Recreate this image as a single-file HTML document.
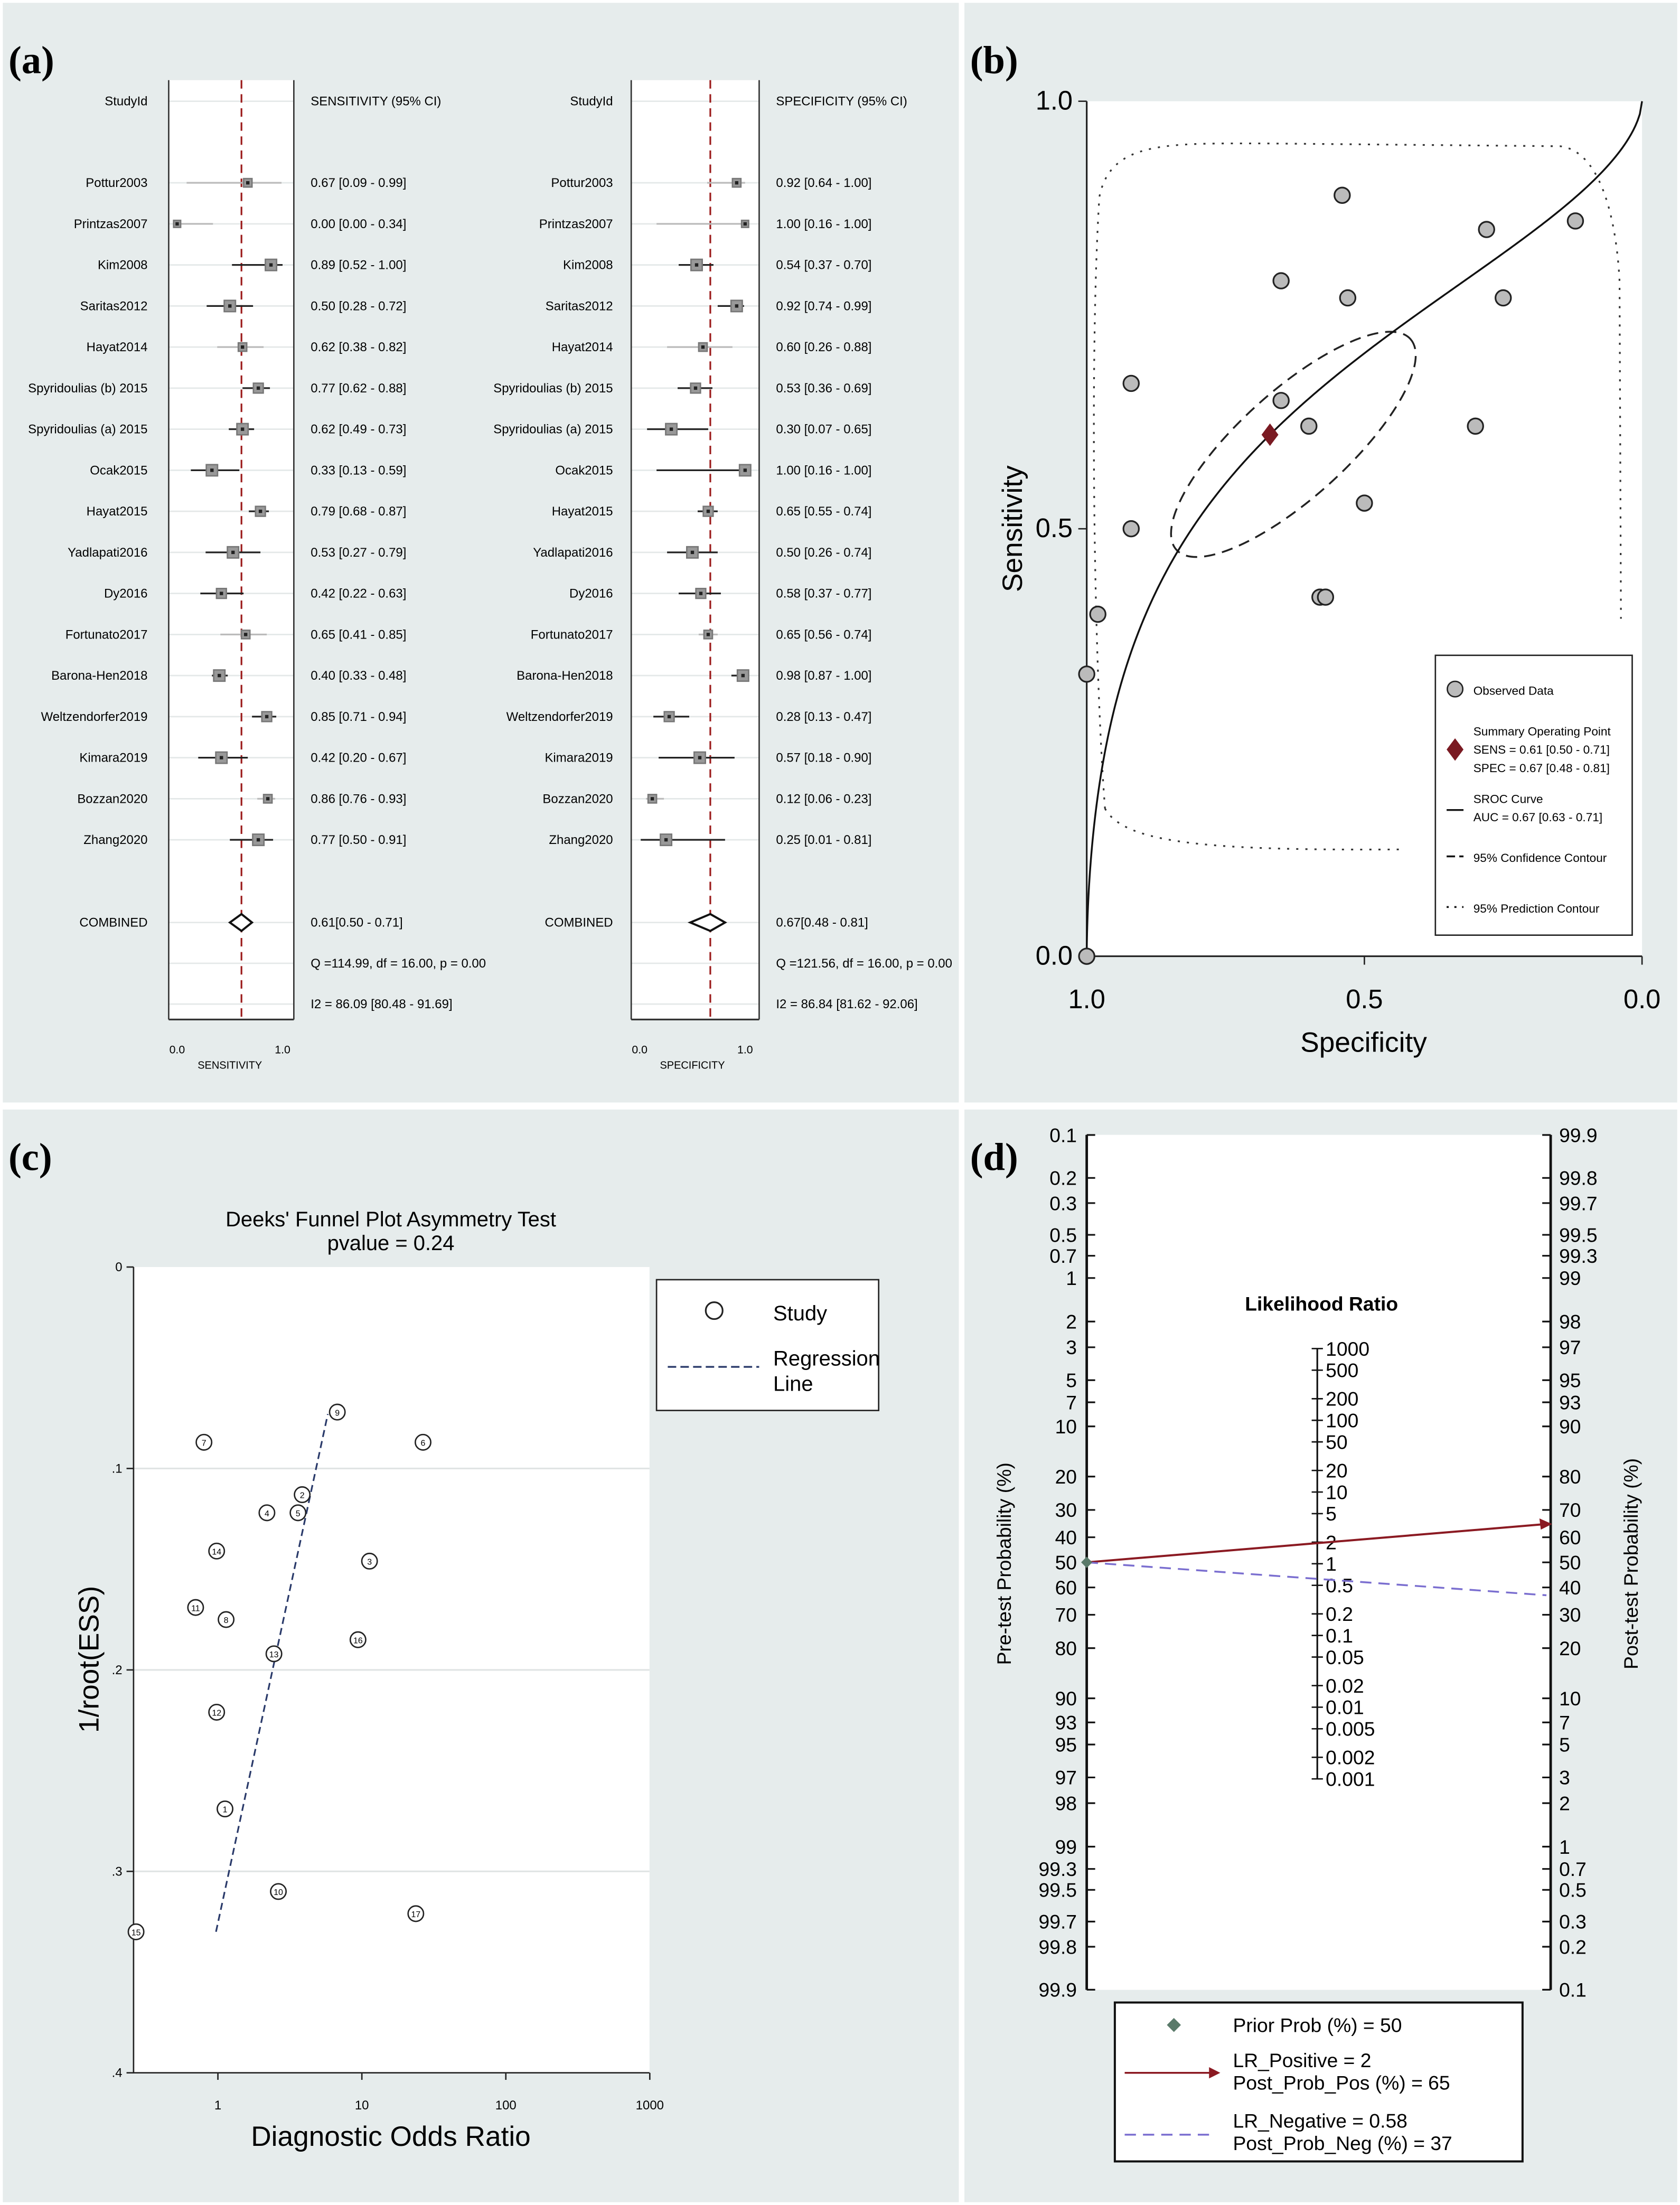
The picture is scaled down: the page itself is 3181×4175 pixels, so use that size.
<!DOCTYPE html>
<html><head><meta charset="utf-8"><style>
html,body{margin:0;padding:0;background:#fff}
svg{display:block}
text{font-family:"Liberation Sans",sans-serif}
</style></head><body>
<svg id="s" xmlns="http://www.w3.org/2000/svg" width="3181" height="4175" viewBox="0 0 1195 1568" preserveAspectRatio="none">
<rect x="0" y="0" width="1195" height="1568" fill="#ffffff"/>
<rect x="2" y="2" width="680" height="782" fill="#e6ecec"/>
<rect x="686" y="2" width="507" height="782" fill="#e6ecec"/>
<rect x="2" y="789" width="680" height="777" fill="#e6ecec"/>
<rect x="686" y="789" width="507" height="777" fill="#e6ecec"/>
<g font-family="Liberation Serif" font-weight="bold" font-size="28">
<text x="6" y="52" style="font-family:'Liberation Serif',serif">(a)</text>
<text x="690" y="52" style="font-family:'Liberation Serif',serif">(b)</text>
<text x="6" y="832" style="font-family:'Liberation Serif',serif">(c)</text>
<text x="690" y="832" style="font-family:'Liberation Serif',serif">(d)</text>
</g>
<g id="g"></g>
</svg>
<script>
// ---------- data ----------
const studies=["Pottur2003","Printzas2007","Kim2008","Saritas2012","Hayat2014","Spyridoulias (b) 2015","Spyridoulias (a) 2015","Ocak2015","Hayat2015","Yadlapati2016","Dy2016","Fortunato2017","Barona-Hen2018","Weltzendorfer2019","Kimara2019","Bozzan2020","Zhang2020"];
const sens=[0.67,0.00,0.89,0.50,0.62,0.77,0.62,0.33,0.79,0.53,0.42,0.65,0.40,0.85,0.42,0.86,0.77];
const sensLo=[0.09,0.00,0.52,0.28,0.38,0.62,0.49,0.13,0.68,0.27,0.22,0.41,0.33,0.71,0.20,0.76,0.50];
const sensHi=[0.99,0.34,1.00,0.72,0.82,0.88,0.73,0.59,0.87,0.79,0.63,0.85,0.48,0.94,0.67,0.93,0.91];
const spec=[0.92,1.00,0.54,0.92,0.60,0.53,0.30,1.00,0.65,0.50,0.58,0.65,0.98,0.28,0.57,0.12,0.25];
const specLo=[0.64,0.16,0.37,0.74,0.26,0.36,0.07,0.16,0.55,0.26,0.37,0.56,0.87,0.13,0.18,0.06,0.01];
const specHi=[1.00,1.00,0.70,0.99,0.88,0.69,0.65,1.00,0.74,0.74,0.77,0.74,1.00,0.47,0.90,0.23,0.81];
const weights=[6,5,8,8,6,7,8,8,7,8,7,6,8,7,8,6,8];
const sensPooled=[0.61,0.50,0.71];
const specPooled=[0.67,0.48,0.81];
const deeksDOR=[1.12,3.85,11.3,2.19,3.6,26.6,0.80,1.14,6.75,2.63,0.70,0.98,2.45,0.98,0.27,9.4,23.7];
const deeksY=[0.269,0.113,0.146,0.122,0.122,0.087,0.087,0.175,0.072,0.31,0.169,0.221,0.192,0.141,0.33,0.185,0.321];
const deeksLabels=["1","2","3","4","5","6","7","8","9","10","11","12","13","14","15","16","17"];
const faganLeftTicks=[0.1,0.2,0.3,0.5,0.7,1,2,3,5,7,10,20,30,40,50,60,70,80,90,93,95,97,98,99,99.3,99.5,99.7,99.8,99.9];
const faganRightTicks=[99.9,99.8,99.7,99.5,99.3,99,98,97,95,93,90,80,70,60,50,40,30,20,10,7,5,3,2,1,0.7,0.5,0.3,0.2,0.1];
const lrTicks=[1000,500,200,100,50,20,10,5,2,1,0.5,0.2,0.1,0.05,0.02,0.01,0.005,0.002,0.001];
const faganPrior=[50];
const faganPost=[65,37];

const NS="http://www.w3.org/2000/svg";
const G=document.getElementById('g');
function el(tag,attrs,parent,txt){const e=document.createElementNS(NS,tag);for(const k in attrs)e.setAttribute(k,attrs[k]);if(txt!==undefined)e.textContent=txt;(parent||G).appendChild(e);return e;}
const f2=v=>v.toFixed(2);

// ---------- panel a: forest ----------
function forest(x0,x1,sx0,sx1,vals,lo,hi,pooled,labX,txtX,title,axisTitle,qtxt,itxt){
  const sc=v=>sx0+(sx1-sx0)*v;
  const rowY=i=>130+i*29.2;
  let r=el('rect',{x:x0,y:57,width:x1-x0,height:668,fill:'#fff'});
  
  const rows=[72].concat(studies.map((s,i)=>rowY(i))).concat([656,685,714]);
  rows.forEach(y=>{let l=el('line',{x1:x0,x2:x1,y1:y,y2:y,stroke:'#e4e8e8','stroke-width':1});});
  let a=el('line',{x1:x0,x2:x0,y1:57,y2:725,stroke:'#333','stroke-width':1});
  let a2=el('line',{x1:x1,x2:x1,y1:57,y2:725,stroke:'#333','stroke-width':1});
  let b=el('line',{x1:x0,x2:x1,y1:725,y2:725,stroke:'#333','stroke-width':1.2});
  let ref=el('line',{x1:sc(pooled[0]),x2:sc(pooled[0]),y1:57,y2:725,stroke:'#9b1b1b','stroke-width':1.2,'stroke-dasharray':'6,4'});
  
  let t=el('text',{x:labX,y:75,'font-size':9,'text-anchor':'end'},G,'StudyId');
  t=el('text',{x:txtX,y:75,'font-size':9},G,title);
  studies.forEach((s,i)=>{
    const y=rowY(i);
    let n=el('text',{x:labX,y:y+3,'font-size':9,'text-anchor':'end'},G,s);
    let c=el('line',{x1:sc(lo[i]),x2:sc(hi[i]),y1:y,y2:y,stroke:weights[i]>6?'#222':'#bbb','stroke-width':1.2});
    const w=weights[i];
    let q=el('rect',{x:sc(vals[i])-w/2,y:y-w/2,width:w,height:w,fill:'#999',stroke:'#777'});
    let d=el('rect',{x:sc(vals[i])-1.2,y:y-1.2,width:2.4,height:2.4,fill:'#222'});
    let v=el('text',{x:txtX,y:y+3,'font-size':9},G,f2(vals[i])+' ['+f2(lo[i])+' - '+f2(hi[i])+']');
  });
  const cy=656;
  let dm=el('polygon',{points:`${sc(pooled[1])},${cy} ${sc(pooled[0])},${cy-6} ${sc(pooled[2])},${cy} ${sc(pooled[0])},${cy+6}`,fill:'#fff',stroke:'#111','stroke-width':1.5});
  
  t=el('text',{x:labX,y:cy+3,'font-size':9,'text-anchor':'end'},G,'COMBINED');
  t=el('text',{x:txtX,y:cy+3,'font-size':9},G,f2(pooled[0])+'['+f2(pooled[1])+' - '+f2(pooled[2])+']');
  t=el('text',{x:txtX,y:688,'font-size':9},G,qtxt);
  t=el('text',{x:txtX,y:717,'font-size':9},G,itxt);
  t=el('text',{x:sc(0),y:749,'font-size':8,'text-anchor':'middle'},G,'0.0');
  t=el('text',{x:sc(1),y:749,'font-size':8,'text-anchor':'middle'},G,'1.0');
  t=el('text',{x:sc(0.5),y:760,'font-size':7.5,'text-anchor':'middle'},G,axisTitle);
}
forest(120,209,126,201,sens,sensLo,sensHi,sensPooled,105,221,'SENSITIVITY (95% CI)','SENSITIVITY','Q =114.99, df = 16.00, p = 0.00','I2 = 86.09 [80.48 - 91.69]');
forest(449,540,455,530,spec,specLo,specHi,specPooled,436,552,'SPECIFICITY (95% CI)','SPECIFICITY','Q =121.56, df = 16.00, p = 0.00','I2 = 86.84 [81.62 - 92.06]');

// ---------- panel b: SROC ----------
(function(){
  const X=sp=>773+(1-sp)*395, Y=se=>680-se*608;
  let r=el('rect',{x:773,y:72,width:395,height:608,fill:'#fff'});
  let ax=el('path',{d:'M773,72 L773,680 L1168,680',fill:'none',stroke:'#222','stroke-width':1.2});
  [[1,'1.0'],[0.5,'0.5'],[0,'0.0']].forEach(([v,l])=>{
    let t=el('line',{x1:767,x2:773,y1:Y(v),y2:Y(v),stroke:'#222'});
    let tx=el('text',{x:763,y:Y(v)+6,'font-size':19,'text-anchor':'end'},G,l);
    let t2=el('line',{x1:X(v),x2:X(v),y1:680,y2:686,stroke:'#222'});
    let tx2=el('text',{x:X(v),y:717,'font-size':19,'text-anchor':'middle'},G,l);
  });
  let t=el('text',{x:970,y:748,'font-size':20,'text-anchor':'middle'},G,'Specificity');
  t=el('text',{x:0,y:0,'font-size':20,'text-anchor':'middle',transform:'translate(727,376) rotate(-90)'},G,'Sensitivity');
  let pc=el('path',{d:'M786,575 C778,470 775,250 782,140 C790,100 830,102 900,102 L1110,104 C1140,108 1150,160 1152,200 L1153,440 M786,575 C800,600 860,605 1000,604',fill:'none',stroke:'#333','stroke-width':1.2,'stroke-dasharray':'1.5,5'});
  
  let ce=el('ellipse',{cx:920,cy:316,rx:112,ry:38,fill:'none',stroke:'#222','stroke-width':1.3,'stroke-dasharray':'8,5',transform:'rotate(-42 920 316)'});
  
  const lg=p=>Math.log(p/(1-p));
  const alpha=lg(sensPooled[0])-0.6*lg(1-specPooled[0]);
  let d='M773,680';
  for(let i=1;i<=400;i++){const fpr=Math.pow(i/400,1.6);const fp=Math.min(fpr,0.9999);const se=1/(1+Math.exp(-(alpha+0.6*lg(fp))));d+=` L${X(1-fpr).toFixed(2)},${Y(fpr>=0.9999?1:se).toFixed(2)}`;}
  let cv=el('path',{d:d,fill:'none',stroke:'#111','stroke-width':1.3});
  sens.forEach((s,i)=>{let c=el('circle',{cx:X(spec[i]),cy:Y(s),r:5.5,fill:'#bbb',stroke:'#222','stroke-width':1.2});});
  const sx=X(specPooled[0]),sy=Y(sensPooled[0]);
  let sp=el('polygon',{points:`${sx},${sy-8} ${sx+6},${sy} ${sx},${sy+8} ${sx-6},${sy}`,fill:'#7a1a22'});
  let lb=el('rect',{x:1021,y:466,width:140,height:199,fill:'#fff',stroke:'#222','stroke-width':1});
  let c=el('circle',{cx:1035,cy:490,r:5.5,fill:'#bbb',stroke:'#222'});
  const L=(x,y,s,n,fs)=>{let q=el('text',{x:x,y:y,'font-size':fs||8.5},G,s);};
  L(1048,494,'Observed Data','legend-observed');
  let dd=el('polygon',{points:'1035,525 1041,533 1035,541 1029,533',fill:'#7a1a22'});
  L(1048,523,'Summary Operating Point','legend-summary');L(1048,536,'SENS = 0.61 [0.50 - 0.71]','legend-sens');L(1048,549,'SPEC = 0.67 [0.48 - 0.81]','legend-spec');
  let l1=el('line',{x1:1029,x2:1041,y1:576,y2:576,stroke:'#111','stroke-width':1.3});
  L(1048,571,'SROC Curve','legend-sroc');L(1048,584,'AUC = 0.67 [0.63 - 0.71]','legend-auc');
  let l2=el('line',{x1:1029,x2:1041,y1:609,y2:609,stroke:'#111','stroke-width':1.3,'stroke-dasharray':'6,3'});
  L(1048,613,'95% Confidence Contour','legend-confidence');
  let l3=el('line',{x1:1029,x2:1041,y1:645,y2:645,stroke:'#111','stroke-width':1.3,'stroke-dasharray':'1.5,4'});
  L(1048,649,'95% Prediction Contour','legend-prediction');
})();

// ---------- panel c: Deeks ----------
(function(){
  const X=v=>155+Math.log10(v)*102.4, Y=v=>901+v*1432.5;
  let r=el('rect',{x:95,y:901,width:367,height:573,fill:'#fff'});
  [0.1,0.2,0.3].forEach(v=>{let g=el('line',{x1:95,x2:462,y1:Y(v),y2:Y(v),stroke:'#e0e4e4','stroke-width':1.2});});
  let ax=el('path',{d:'M95,901 L95,1474 L462,1474',fill:'none',stroke:'#222','stroke-width':1});
  [[0,'0'],[0.1,'.1'],[0.2,'.2'],[0.3,'.3'],[0.4,'.4']].forEach(([v,l])=>{
    let t=el('line',{x1:90,x2:95,y1:Y(v),y2:Y(v),stroke:'#222'});
    let tx=el('text',{x:87,y:Y(v)+3,'font-size':9,'text-anchor':'end'},G,l);
  });
  [[1,'1'],[10,'10'],[100,'100'],[1000,'1000']].forEach(([v,l])=>{
    let t=el('line',{x1:X(v),x2:X(v),y1:1474,y2:1479,stroke:'#222'});
    let tx=el('text',{x:X(v),y:1500,'font-size':9,'text-anchor':'middle'},G,l);
  });
  let t=el('text',{x:278,y:872,'font-size':15,'text-anchor':'middle'},G,"Deeks' Funnel Plot Asymmetry Test");
  t=el('text',{x:278,y:889,'font-size':15,'text-anchor':'middle'},G,'pvalue =   0.24');
  t=el('text',{x:278,y:1526,'font-size':20,'text-anchor':'middle'},G,'Diagnostic Odds Ratio');
  t=el('text',{x:0,y:0,'font-size':20,'text-anchor':'middle',transform:'translate(70,1180) rotate(-90)'},G,'1/root(ESS)');
  let rl=el('line',{x1:X(0.97),y1:Y(0.33),x2:X(5.8),y2:Y(0.073),stroke:'#2a3a6a','stroke-width':1.2,'stroke-dasharray':'5,3'});
  deeksDOR.forEach((v,i)=>{
    let c=el('circle',{cx:X(v),cy:Y(deeksY[i]),r:5.5,fill:'#fff',stroke:'#222','stroke-width':1});
    let l=el('text',{x:X(v),y:Y(deeksY[i])+2.5,'font-size':6,'text-anchor':'middle'},G,deeksLabels[i]);
  });
  let lb=el('rect',{x:467,y:910,width:158,height:93,fill:'#fff',stroke:'#222'});
  let c=el('circle',{cx:508,cy:932,r:6,fill:'#fff',stroke:'#222','stroke-width':1.2});
  t=el('text',{x:550,y:939,'font-size':15},G,'Study');
  let ll=el('line',{x1:475,x2:540,y1:972,y2:972,stroke:'#2a3a6a','stroke-width':1.3,'stroke-dasharray':'6,3'});
  t=el('text',{x:550,y:971,'font-size':15},G,'Regression');
  t=el('text',{x:550,y:989,'font-size':15},G,'Line');
})();

// ---------- panel d: Fagan ----------
(function(){
  const lg=p=>Math.log(p/(1-p));
  const YL=p=>1111+lg(p/100)*44.0, YR=p=>1111-lg(p/100)*44.0, YLR=v=>1112-Math.log10(v)*51;
  let r=el('rect',{x:773,y:807,width:330,height:608,fill:'#fff'});
  let a=el('line',{x1:773,x2:773,y1:807,y2:1415,stroke:'#111','stroke-width':1.8});
  let b=el('line',{x1:1103,x2:1103,y1:807,y2:1415,stroke:'#111','stroke-width':1.8});
  let c=el('line',{x1:937,x2:937,y1:YLR(1000),y2:YLR(0.001),stroke:'#111','stroke-width':1.2});
  faganLeftTicks.forEach(v=>{
    let t=el('line',{x1:773,x2:779,y1:YL(v),y2:YL(v),stroke:'#111','stroke-width':1.2});
    let tx=el('text',{x:766,y:YL(v)+5,'font-size':14,'text-anchor':'end'},G,String(v));
  });
  faganRightTicks.forEach(v=>{
    let t=el('line',{x1:1097,x2:1103,y1:YR(v),y2:YR(v),stroke:'#111','stroke-width':1.2});
    let tx=el('text',{x:1109,y:YR(v)+5,'font-size':14},G,String(v));
  });
  lrTicks.forEach(v=>{
    let t=el('line',{x1:933,x2:941,y1:YLR(v),y2:YLR(v),stroke:'#111'});
    let tx=el('text',{x:943,y:YLR(v)+5,'font-size':14},G,String(v));
  });
  let t=el('text',{x:940,y:932,'font-size':14,'font-weight':'bold','text-anchor':'middle'},G,'Likelihood Ratio');
  t=el('text',{x:0,y:0,'font-size':14,'text-anchor':'middle',transform:'translate(719,1112) rotate(-90)'},G,'Pre-test Probability (%)');
  t=el('text',{x:0,y:0,'font-size':14,'text-anchor':'middle',transform:'translate(1165,1112) rotate(-90)'},G,'Post-test Probability (%)');
  let pl=el('line',{x1:773,y1:YL(faganPrior[0]),x2:1100,y2:YR(faganPost[0]),stroke:'#8b1a22','stroke-width':1.5});
  let ah=el('polygon',{points:`1104,${YR(faganPost[0])} 1095,${YR(faganPost[0])-4} 1096,${YR(faganPost[0])+4}`,fill:'#8b1a22'});
  let nl=el('line',{x1:773,y1:YL(faganPrior[0]),x2:1100,y2:YR(faganPost[1]),stroke:'#7b6fd0','stroke-width':1.3,'stroke-dasharray':'8,5'});
  let pm=el('polygon',{points:`773,${YL(faganPrior[0])-4} 777,${YL(faganPrior[0])} 773,${YL(faganPrior[0])+4} 769,${YL(faganPrior[0])}`,fill:'#5a7a6a'});
  let lb=el('rect',{x:793,y:1424,width:290,height:113,fill:'#fff',stroke:'#111','stroke-width':1.5});
  let lm=el('polygon',{points:'835,1435 840,1440 835,1445 830,1440',fill:'#5a7a6a'});
  const L=(x,y,s,n)=>{let q=el('text',{x:x,y:y,'font-size':14},G,s);};
  L(877,1445,'Prior Prob (%) =      50','legend-prior');
  let l1=el('line',{x1:800,x2:862,y1:1474,y2:1474,stroke:'#8b1a22','stroke-width':1.3});
  let l1a=el('polygon',{points:'868,1474 860,1470 860,1478',fill:'#8b1a22'});
  L(877,1470,'LR_Positive =       2','legend-lr-positive');L(877,1486,'Post_Prob_Pos (%) =    65','legend-post-pos');
  let l2=el('line',{x1:800,x2:862,y1:1518,y2:1518,stroke:'#7b6fd0','stroke-width':1.3,'stroke-dasharray':'8,5'});
  L(877,1513,'LR_Negative =  0.58','legend-lr-negative');L(877,1529,'Post_Prob_Neg (%) =     37','legend-post-neg');
})();
</script>
</body></html>
